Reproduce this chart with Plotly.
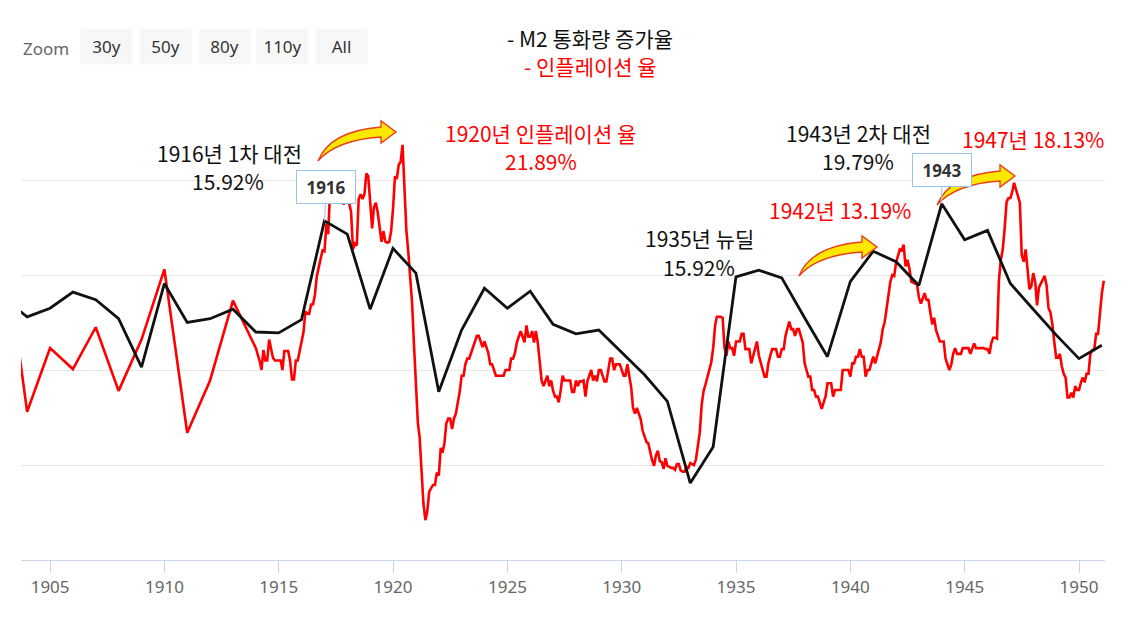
import plotly.graph_objects as go

# ---------------- data ----------------
# M2 money growth (annual, data year; plotted at year end)
m2_years = list(range(1902, 1951))
m2_growth = [7.5, 5.6, 6.5, 8.2, 7.4, 5.4, 0.3, 9.1, 5.0, 5.4,
             6.4, 4.0, 3.9, 5.3, 15.7, 14.3, 6.4, 12.8, 10.2, -2.3,
             4.2, 8.6, 6.5, 8.3, 4.8, 3.8, 4.2, 1.9, -0.5, -3.3,
             -11.9, -8.1, 9.8, 10.5, 9.7, 5.5, 1.4, 9.3, 12.5, 11.4,
             8.9, 17.5, 13.7, 14.7, 9.1, 6.4, 3.7, 1.2, 2.6]

# Inflation, annual part (data year; plotted at year end)
infl_annual_years = list(range(1902, 1913))
infl_annual = [13.5, -4.4, 2.3, 0.1, 4.5, -2.2, 3.2, 10.6, -6.6, -1.1, 7.3]

# Inflation, monthly YoY part
infl_monthly_start = 1914
infl_1914 = [2.3, 1.6, 1.0, 0.0, 2.1, 1.0, 1.0, 3.2, 2.0, 1.3, 1.0, 1.0]
infl_1915 = [1.0, 1.0, 0.0, 2.0, 2.0, 2.0, 1.0, -1.0, -1.0, 1.0, 1.0, 2.0]
infl_1916 = [3.0, 4.0, 6.1, 6.0, 5.9, 6.9, 6.9, 7.9, 9.9, 10.8, 11.7, 12.6]
infl_1917 = [12.5, 15.4, 14.3, 18.9, 19.6, 20.4, 18.5, 19.3, 19.8, 19.5, 17.4, 18.1]
infl_1918 = [19.7, 17.5, 16.7, 12.7, 13.3, 13.1, 18.0, 18.5, 18.0, 18.5, 20.7, 20.4]
infl_1919 = [17.9, 14.9, 17.1, 17.6, 16.6, 15.1, 13.5, 14.6, 13.5, 13.4, 13.5, 14.6]
infl_1920 = [17.0, 20.4, 20.1, 21.6, 21.9, 23.7, 19.5, 14.7, 12.4, 9.9, 7.0, 2.6]
infl_1921 = [-1.6, -5.6, -7.1, -10.8, -14.1, -15.8, -14.9, -12.8, -12.5, -12.1, -12.1, -10.8]
infl_1922 = [-11.1, -8.2, -8.7, -7.7, -5.6, -5.1, -5.1, -6.2, -5.1, -4.6, -3.4, -2.3]
infl_1923 = [-0.6, -0.6, 0.6, 1.2, 1.2, 1.8, 2.4, 3.0, 3.6, 3.6, 3.0, 2.4]
infl_1924 = [3.0, 2.4, 1.8, 0.6, 0.6, 0.0, -0.6, -0.6, -0.6, -0.6, -0.6, 0.0]
infl_1925 = [0.0, 0.0, 1.2, 1.2, 1.8, 2.9, 3.5, 4.1, 3.5, 2.9, 4.7, 3.5]
infl_1926 = [3.5, 4.1, 2.9, 4.1, 2.9, 1.1, -1.1, -1.7, -1.1, -0.6, -1.7, -1.1]
infl_1927 = [-2.2, -2.8, -2.8, -3.4, -2.2, -0.6, -1.1, -1.1, -1.1, -1.1, -2.3, -2.3]
infl_1928 = [-1.1, -1.7, -1.2, -1.2, -1.1, -2.8, -1.2, -0.6, 0.0, -1.1, -0.6, -1.2]
infl_1929 = [0.0, 0.0, -0.6, -1.2, -1.2, 0.0, 1.2, 1.2, 0.0, 0.6, 0.6, 0.6]
infl_1930 = [0.0, -0.6, -0.6, 0.6, -0.6, -1.8, -4.0, -4.6, -4.0, -4.6, -5.2, -6.4]
infl_1931 = [-7.0, -7.6, -7.7, -8.8, -9.5, -10.1, -9.0, -8.5, -9.6, -9.7, -10.4, -9.3]
infl_1932 = [-10.1, -10.2, -10.3, -10.3, -10.5, -9.9, -9.9, -10.6, -10.7, -10.7, -10.2, -10.3]
infl_1933 = [-9.8, -9.9, -10.0, -9.4, -8.0, -6.6, -3.7, -2.2, -1.5, -0.8, 0.0, 0.8]
infl_1934 = [2.3, 4.7, 5.6, 5.6, 5.6, 5.5, 2.3, 1.5, 3.0, 2.3, 2.3, 1.5]
infl_1935 = [3.0, 3.0, 3.0, 3.8, 3.8, 2.2, 2.2, 2.2, 0.7, 1.5, 2.2, 3.0]
infl_1936 = [1.5, 0.7, 0.0, -0.7, -0.7, 0.7, 1.5, 2.2, 2.2, 2.2, 1.4, 1.4]
infl_1937 = [2.2, 2.2, 3.6, 4.4, 5.1, 4.3, 4.3, 3.6, 4.3, 4.3, 3.6, 2.9]
infl_1938 = [0.7, 0.0, -0.7, -0.7, -2.1, -2.1, -2.8, -2.8, -3.4, -4.1, -3.4, -2.8]
infl_1939 = [-1.4, -1.4, -1.4, -2.8, -2.1, -2.1, -2.1, -2.1, 0.0, 0.0, 0.0, 0.0]
infl_1940 = [-0.7, 0.7, 0.7, 1.4, 1.4, 2.2, 1.4, 1.4, -0.7, 0.0, 0.0, 0.7]
infl_1941 = [1.4, 0.7, 1.4, 2.1, 2.9, 4.3, 5.0, 6.4, 7.9, 9.3, 10.0, 9.9]
infl_1942 = [11.3, 12.1, 12.7, 12.6, 13.2, 10.9, 11.6, 10.7, 9.3, 9.2, 9.1, 9.0]
infl_1943 = [7.6, 7.0, 7.5, 8.1, 7.4, 7.4, 6.1, 4.8, 5.5, 4.2, 3.6, 3.0]
infl_1944 = [3.0, 3.0, 1.2, 0.6, 0.0, 0.6, 1.7, 2.3, 1.7, 1.7, 1.7, 2.3]
infl_1945 = [2.3, 2.3, 2.3, 1.7, 2.3, 2.8, 2.3, 2.3, 2.3, 2.3, 2.3, 2.2]
infl_1946 = [2.2, 1.7, 2.8, 3.4, 3.4, 3.3, 9.4, 11.6, 12.7, 14.9, 17.7, 18.1]
infl_1947 = [18.1, 18.8, 19.7, 19.0, 18.4, 17.6, 12.1, 11.4, 12.7, 10.6, 8.5, 8.8]
infl_1948 = [10.2, 9.3, 6.8, 8.7, 9.1, 9.5, 9.9, 8.9, 6.5, 6.1, 4.8, 3.0]
infl_1949 = [1.3, 1.3, 1.7, 0.4, -0.4, -0.8, -2.9, -2.9, -2.4, -2.9, -1.7, -2.1]
infl_1950 = [-2.1, -1.3, -0.8, -1.3, -0.4, -0.4, 1.7, 2.1, 2.1, 3.8, 3.8, 5.9]
infl_1951 = [8.1, 9.4]

infl_monthly_blocks = [infl_1914, infl_1915, infl_1916, infl_1917, infl_1918, infl_1919,
                       infl_1920, infl_1921, infl_1922, infl_1923, infl_1924, infl_1925,
                       infl_1926, infl_1927, infl_1928, infl_1929, infl_1930, infl_1931,
                       infl_1932, infl_1933, infl_1934, infl_1935, infl_1936, infl_1937,
                       infl_1938, infl_1939, infl_1940, infl_1941, infl_1942, infl_1943,
                       infl_1944, infl_1945, infl_1946, infl_1947, infl_1948, infl_1949,
                       infl_1950, infl_1951]

x_tick_years = list(range(1905, 1951, 5))

# ---------------- build series ----------------
m2_x = [f"{y}-12-31" for y in m2_years]

infl_x = [f"{y}-12-31" for y in infl_annual_years]
infl_y = list(infl_annual)
for i, block in enumerate(infl_monthly_blocks):
    yr = infl_monthly_start + i
    for m, v in enumerate(block):
        infl_x.append(f"{yr}-{m + 1:02d}-01")
        infl_y.append(v)

# ---------------- layout helpers (reference pixel -> paper) ----------------
OFF = 8                      # page body margin
W, H = 1143 - 2 * OFF, 639 - 2 * OFF
PLOT_L, PLOT_R, PLOT_T, PLOT_B = 21, 1105, 85, 560   # in reference pixels
ML, MT = PLOT_L - OFF, PLOT_T - OFF
MR, MB = W - (PLOT_R - OFF), H - (PLOT_B - OFF)
PW, PH = PLOT_R - PLOT_L, PLOT_B - PLOT_T


def px(xp):
    return (xp - PLOT_L) / PW


def py(yp):
    return (PLOT_B - yp) / PH


KFONT = "Noto Sans CJK KR, Noto Sans, sans-serif"

fig = go.Figure()
fig.add_trace(go.Scatter(x=infl_x, y=infl_y, mode="lines", name="인플레이션 율",
                         line=dict(color="#ff0000", width=2.6), showlegend=False))
fig.add_trace(go.Scatter(x=m2_x, y=m2_growth, mode="lines", name="M2 통화량 증가율",
                         line=dict(color="#111111", width=2.8), showlegend=False))

annotations = []


def text_ann(xp, yp, txt, color, size=21):
    annotations.append(dict(x=px(xp), y=py(yp), xref="paper", yref="paper", text=txt,
                            showarrow=False, xanchor="center", yanchor="middle",
                            align="center", font=dict(family=KFONT, size=size, color=color)))


# title lines
text_ann(590, 38, "- M2 통화량 증가율", "#111111", 21)
text_ann(590, 66, "- 인플레이션 율", "#ff0000", 21)

# event labels (one annotation per line)
text_ann(229, 153, "1916년 1차 대전", "#111111")
text_ann(228, 181, "15.92%", "#111111")
text_ann(540, 133, "1920년 인플레이션 율", "#ff0000")
text_ann(541, 161, "21.89%", "#ff0000")
text_ann(699, 238, "1935년 뉴딜", "#111111")
text_ann(699, 267, "15.92%", "#111111")
text_ann(858, 133, "1943년 2차 대전", "#111111")
text_ann(858, 161, "19.79%", "#111111")
text_ann(840, 210, "1942년 13.19%", "#ff0000")
text_ann(1033, 139, "1947년 18.13%", "#ff0000")

# "Zoom" range-selector look
annotations.append(dict(x=px(21), y=py(48), xref="paper", yref="paper", text="Zoom",
                        showarrow=False, xanchor="left", yanchor="middle",
                        font=dict(family="Noto Sans, sans-serif", size=17, color="#666666")))
btn_labels = ["30y", "50y", "80y", "110y", "All"]
btn_centers = [106.5, 165.5, 224.5, 282.5, 341.5]
for lab, cx in zip(btn_labels, btn_centers):
    annotations.append(dict(x=px(cx), y=py(46.7), xref="paper", yref="paper", text=lab,
                            showarrow=False, xanchor="center", yanchor="middle",
                            width=51, height=35, borderpad=0, bgcolor="#f7f7f7",
                            font=dict(family="Noto Sans, sans-serif", size=17, color="#333333")))

# tooltip-like boxes
for yr, ax in [(1916, 2), (1943, 0)]:
    idx = m2_years.index(yr)
    annotations.append(dict(x=m2_x[idx], y=m2_growth[idx], xref="x", yref="y",
                            text=f"<b>{yr}</b>", showarrow=True, arrowhead=0,
                            arrowwidth=1, arrowcolor="#9cc3ea", ax=ax, ay=-34,
                            bgcolor="#ffffff", bordercolor="#9cc3ea", borderwidth=1,
                            borderpad=5, width=48, height=22,
                            font=dict(family="Noto Sans, sans-serif", size=17, color="#333333")))

# curved yellow arrows (decorations)
shapes = []


def curved_arrow(tx, ty):
    def p(dx, dy):
        return f"{px(tx + dx):.5f},{py(ty + dy):.5f}"
    path = (f"M {p(0, 0)} Q {p(12, -30)} {p(63, -34)} L {p(63, -40)} L {p(78, -29)} "
            f"L {p(63, -18)} L {p(63, -24)} Q {p(18, -21)} {p(0, 0)} Z")
    shapes.append(dict(type="path", xref="paper", yref="paper", path=path,
                       fillcolor="#ffe800", line=dict(color="#e8401c", width=1.4),
                       layer="above"))


curved_arrow(318, 161)
curved_arrow(799, 276)
curved_arrow(937, 205)

fig.update_layout(
    width=W, height=H,
    margin=dict(l=ML, r=MR, t=MT, b=MB, pad=0),
    paper_bgcolor="#ffffff", plot_bgcolor="#ffffff",
    showlegend=False,
    annotations=annotations,
    shapes=shapes,
    xaxis=dict(type="date", range=["1903-09-24", "1951-02-20"],
               tickvals=[f"{y}-01-01" for y in x_tick_years],
               ticktext=[str(y) for y in x_tick_years],
               showgrid=False, zeroline=False,
               showline=True, linecolor="#ccd6eb", linewidth=1,
               ticks="outside", ticklen=12, tickcolor="#ccd6eb", tickwidth=1,
               tickfont=dict(family="Noto Sans, sans-serif", size=17, color="#666666")),
    yaxis=dict(range=[-20, 30], tickvals=[-10, 0, 10, 20, 30],
               showticklabels=False, showgrid=True, gridcolor="#e6e6e6", gridwidth=1,
               zeroline=False, showline=False, ticks=""),
)

fig.write_html("out.html")
